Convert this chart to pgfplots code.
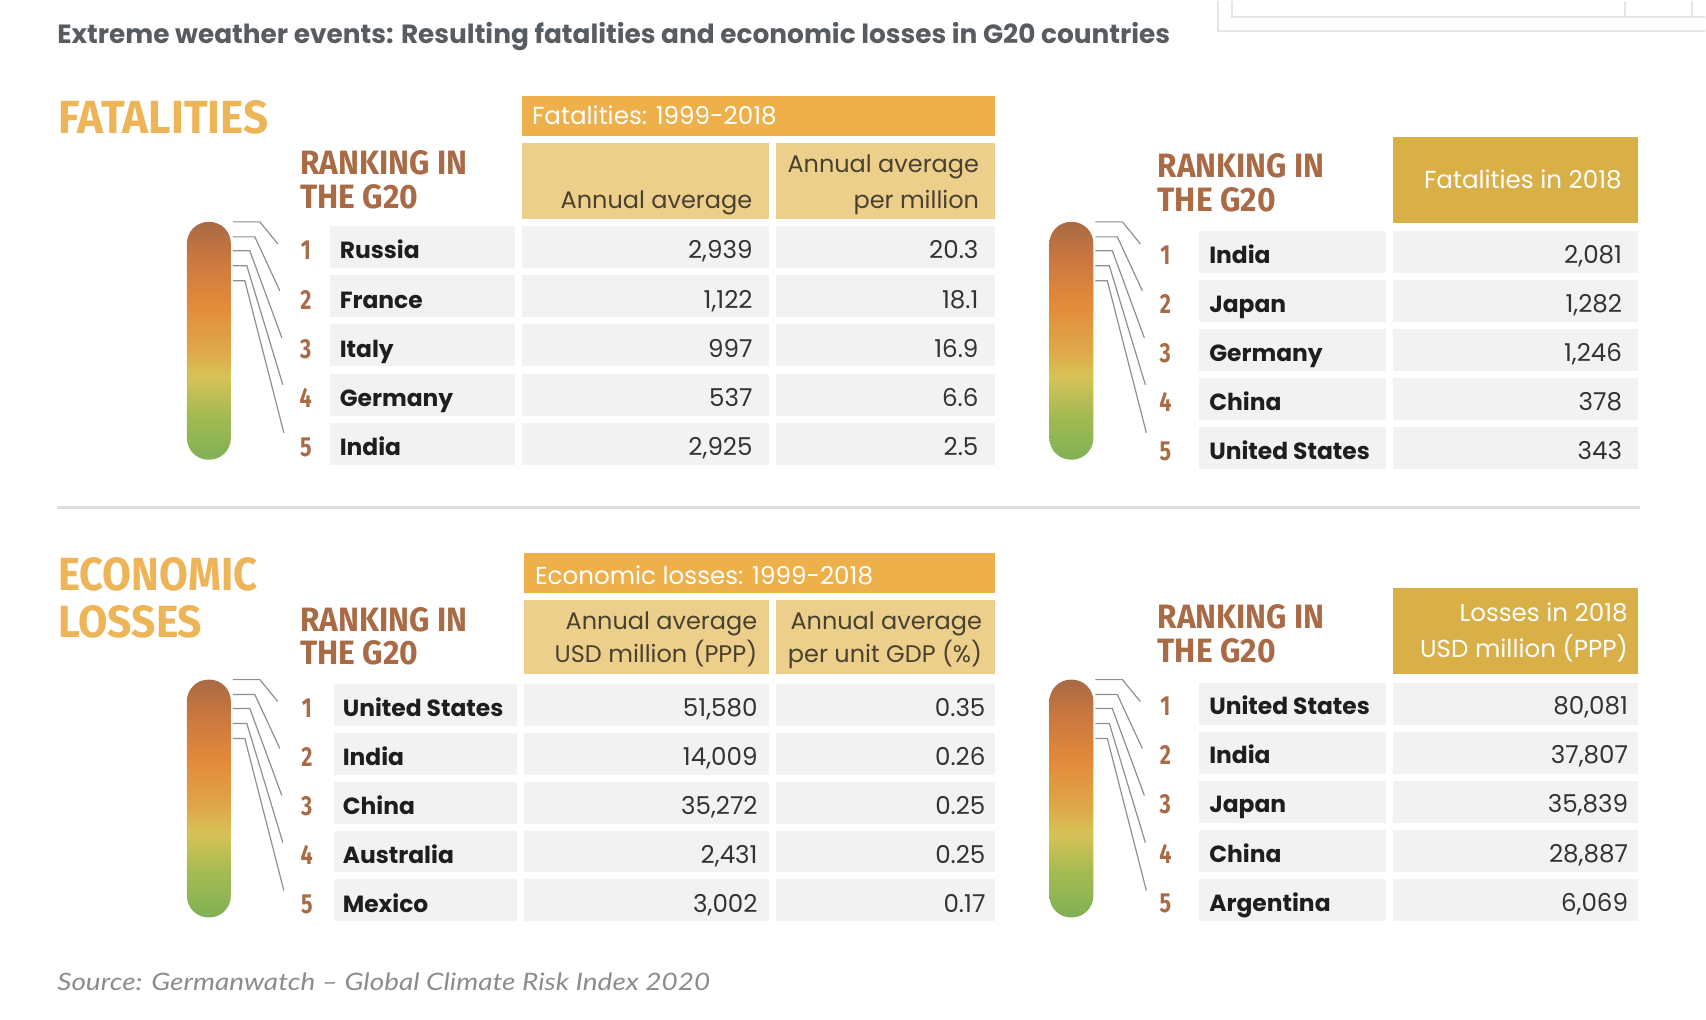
\documentclass[border=0pt]{standalone}
\usepackage{pgfplots}
\pgfplotsset{compat=1.18}
\usepackage{pgfplotstable}
\usepackage{graphicx}
\usepackage{fontspec}
\setmainfont{Poppins}
\newfontfamily\latofont{Lato}
\newfontfamily\headfont{Fira Sans}
\newcommand{\fs}[1]{\fontsize{#1}{#1}\selectfont}

\definecolor{bandc}{HTML}{EDB04B}
\definecolor{subc}{HTML}{EBCF8A}
\definecolor{hdrc}{HTML}{D9AF48}
\definecolor{cellc}{HTML}{F2F2F2}
\definecolor{subtext}{HTML}{4A4030}
\definecolor{rankc}{HTML}{A86B45}
\definecolor{headc}{HTML}{EDB458}
\definecolor{titlec}{HTML}{575C61}
\definecolor{sourcec}{HTML}{8C8C8C}
\definecolor{sepc}{HTML}{DDDDDD}
\definecolor{connc}{HTML}{8F8F8F}
\definecolor{ctext}{HTML}{1E1E1E}
\definecolor{vtext}{HTML}{333333}
\definecolor{frc}{HTML}{E6E6E6}
\definecolor{th0}{HTML}{80B055}
\definecolor{th1}{HTML}{A6BB52}
\definecolor{th2}{HTML}{D6C257}
\definecolor{th3}{HTML}{DFA648}
\definecolor{th4}{HTML}{E38B3B}
\definecolor{th5}{HTML}{C9773F}
\definecolor{th6}{HTML}{A96A45}
% path bounding box maps to 25bp..75bp of the shading
\pgfdeclareverticalshading{therm}{100bp}{color(0bp)=(th0); color(25bp)=(th0); color(35bp)=(th1); color(42.5bp)=(th2); color(48.5bp)=(th3); color(57.5bp)=(th4); color(67.5bp)=(th5); color(75bp)=(th6); color(100bp)=(th6)}

\pgfplotstableread[col sep=semicolon]{
r;c;a;b
1;Russia;2,939;20.3
2;France;1,122;18.1
3;Italy;997;16.9
4;Germany;537;6.6
5;India;2,925;2.5
}\tfa
\pgfplotstableread[col sep=semicolon]{
r;c;a
1;India;2,081
2;Japan;1,282
3;Germany;1,246
4;China;378
5;United States;343
}\tfb
\pgfplotstableread[col sep=semicolon]{
r;c;a;b
1;United States;51,580;0.35
2;India;14,009;0.26
3;China;35,272;0.25
4;Australia;2,431;0.25
5;Mexico;3,002;0.17
}\tla
\pgfplotstableread[col sep=semicolon]{
r;c;a
1;United States;80,081
2;India;37,807
3;Japan;35,839
4;China;28,887
5;Argentina;6,069
}\tlb

\pgfplotsset{
 txt/.style={draw=none, mark=none, point meta=explicit symbolic, nodes near coords,
   every node near coord/.append style={inner sep=0pt, outer sep=0pt}},
 cname/.style={txt, every node near coord/.append style={anchor=base west, font=\fs{11.7pt}\bfseries, text=ctext}},
 cval/.style={txt, every node near coord/.append style={anchor=base east, font=\fs{12.3pt}, text=vtext}},
 crank/.style={txt, nodes near coords={\scalebox{0.78}[1]{\pgfplotspointmeta}},
   every node near coord/.append style={anchor=base, font=\headfont\fs{13.8pt}\bfseries, text=rankc}},
}

\tikzset{conn/.style={draw=connc, line width=0.6pt},
  sub/.style={anchor=base east, inner sep=0pt, text=subtext, font=\fs{12pt}},
  wht/.style={inner sep=0pt, text=white, font=\fs{12.3pt}}}

\newcommand{\therm}[2]{%
\shade[shading=therm, rounded corners=10.8pt] (axis cs:{187+#1},{221+#2}) rectangle (axis cs:{231+#1},{459+#2});
\draw[conn] (axis cs:{233+#1},{221+#2}) -- (axis cs:{260+#1},{221+#2}) -- (axis cs:{278+#1},{243+#2});
\draw[conn] (axis cs:{233+#1},{236+#2}) -- (axis cs:{255+#1},{236+#2}) -- (axis cs:{280+#1},{290+#2});
\draw[conn] (axis cs:{233+#1},{250+#2}) -- (axis cs:{250+#1},{250+#2}) -- (axis cs:{282+#1},{337+#2});
\draw[conn] (axis cs:{233+#1},{265+#2}) -- (axis cs:{247+#1},{265+#2}) -- (axis cs:{283+#1},{384+#2});
\draw[conn] (axis cs:{233+#1},{280+#2}) -- (axis cs:{245+#1},{280+#2}) -- (axis cs:{284+#1},{432+#2});
}
\newcommand{\rankhead}[3]{%
\node[anchor=base west, inner sep=0pt, text=rankc] at (axis cs:#1,#2) {\resizebox{83.5pt}{12pt}{\headfont\bfseries RANKING IN}};
\node[anchor=base west, inner sep=0pt, text=rankc] at (axis cs:#1,#3) {\resizebox{59pt}{12pt}{\headfont\bfseries THE G20}};
}

\begin{document}
\begin{tikzpicture}
\begin{axis}[width=853pt, height=509.5pt, scale only axis,
  xmin=0, xmax=1706, ymin=0, ymax=1019, y dir=reverse,
  hide axis, clip=false]
\path (axis cs:0,0) rectangle (axis cs:1706,1019);

% faint frame top right
\draw[frc, line width=1pt] (axis cs:1219,0) -- (axis cs:1219,30) -- (axis cs:1706,30);
\draw[frc, line width=1pt] (axis cs:1233,0) -- (axis cs:1233,16) -- (axis cs:1706,16);
\draw[frc, line width=1pt] (axis cs:1626,0) -- (axis cs:1626,16);
\draw[frc, line width=1pt] (axis cs:1693,0) -- (axis cs:1693,16);

% title
\node[anchor=base west, inner sep=0pt, text=titlec, font=\fs{13.2pt}\bfseries] at (axis cs:57,43)
  {Extreme weather events: Resulting fatalities and economic losses in G20 countries};

% section headings
\node[anchor=base west, inner sep=0pt, text=headc] at (axis cs:58,133) {\resizebox{105pt}{16.5pt}{\headfont\bfseries FATALITIES}};
\node[anchor=base west, inner sep=0pt, text=headc] at (axis cs:58,590) {\resizebox{99.5pt}{16.5pt}{\headfont\bfseries ECONOMIC}};
\node[anchor=base west, inner sep=0pt, text=headc] at (axis cs:58,637) {\resizebox{72pt}{16pt}{\headfont\bfseries LOSSES}};

% ranking headings
\rankhead{300}{174}{208}
\rankhead{1158}{177}{211}
\rankhead{300}{631}{664}
\rankhead{1158}{628}{662}

% ---- top-left header boxes
\fill[bandc] (axis cs:522,95) rectangle (axis cs:996,135);
\node[wht, anchor=base west] at (axis cs:532,124) {Fatalities: 1999-2018};
\fill[subc] (axis cs:522,142) rectangle (axis cs:769,218);
\fill[subc] (axis cs:776,142) rectangle (axis cs:996,218);
\node[sub] at (axis cs:753,208) {Annual average};
\node[sub] at (axis cs:980,172) {Annual average};
\node[sub] at (axis cs:980,208) {per million};

% ---- top-right header
\fill[hdrc] (axis cs:1394,136) rectangle (axis cs:1639,222);
\node[wht, anchor=base east] at (axis cs:1623,188) {Fatalities in 2018};

% ---- lower-left header boxes
\fill[bandc] (axis cs:524,552) rectangle (axis cs:996,592);
\node[wht, anchor=base west] at (axis cs:535,584) {Economic losses: 1999-2018};
\fill[subc] (axis cs:524,599) rectangle (axis cs:769,673);
\fill[subc] (axis cs:776,599) rectangle (axis cs:996,673);
\node[sub] at (axis cs:758,629) {Annual average};
\node[sub] at (axis cs:758,662) {USD million (PPP)};
\node[sub] at (axis cs:983,629) {Annual average};
\node[sub] at (axis cs:983,662) {per unit GDP (\%)};

% ---- lower-right header
\fill[hdrc] (axis cs:1394,587) rectangle (axis cs:1639,673);
\node[wht, anchor=base east] at (axis cs:1629,621) {Losses in 2018};
\node[wht, anchor=base east] at (axis cs:1629,657) {USD million (PPP)};

% ---- cells
\pgfplotsinvokeforeach{0,1,2,3,4}{
  \fill[cellc] (axis cs:330,{225+49.3*#1}) rectangle (axis cs:515,{267+49.3*#1});
  \fill[cellc] (axis cs:522,{225+49.3*#1}) rectangle (axis cs:769,{267+49.3*#1});
  \fill[cellc] (axis cs:776,{225+49.3*#1}) rectangle (axis cs:996,{267+49.3*#1});
  \fill[cellc] (axis cs:1200,{230+49*#1}) rectangle (axis cs:1387,{272+49*#1});
  \fill[cellc] (axis cs:1394,{230+49*#1}) rectangle (axis cs:1639,{272+49*#1});
  \fill[cellc] (axis cs:334,{683+49*#1}) rectangle (axis cs:517,{725+49*#1});
  \fill[cellc] (axis cs:524,{683+49*#1}) rectangle (axis cs:769,{725+49*#1});
  \fill[cellc] (axis cs:776,{683+49*#1}) rectangle (axis cs:996,{725+49*#1});
  \fill[cellc] (axis cs:1200,{682+49.2*#1}) rectangle (axis cs:1387,{724+49.2*#1});
  \fill[cellc] (axis cs:1394,{682+49.2*#1}) rectangle (axis cs:1639,{724+49.2*#1});
}

% separator
\draw[sepc, line width=1.5pt] (axis cs:57,507) -- (axis cs:1641,507);

% thermometers and connectors
\therm{0}{0}
\therm{863}{0}
\therm{0}{458}
\therm{863}{458}

% ---- table text: top-left
\addplot[crank] table[x expr=306, y expr={259+49.3*(\thisrow{r}-1)}, meta=r] {\tfa};
\addplot[cname] table[x expr=340, y expr={258+49.3*(\thisrow{r}-1)}, meta=c] {\tfa};
\addplot[cval] table[x expr=753, y expr={258+49.3*(\thisrow{r}-1)}, meta=a] {\tfa};
\addplot[cval] table[x expr=979, y expr={258+49.3*(\thisrow{r}-1)}, meta=b] {\tfa};
% top-right
\addplot[crank] table[x expr=1166, y expr={264+49*(\thisrow{r}-1)}, meta=r] {\tfb};
\addplot[cname] table[x expr=1210, y expr={263+49*(\thisrow{r}-1)}, meta=c] {\tfb};
\addplot[cval] table[x expr=1623, y expr={263+49*(\thisrow{r}-1)}, meta=a] {\tfb};
% lower-left
\addplot[crank] table[x expr=307, y expr={717+49*(\thisrow{r}-1)}, meta=r] {\tla};
\addplot[cname] table[x expr=343, y expr={716+49*(\thisrow{r}-1)}, meta=c] {\tla};
\addplot[cval] table[x expr=758, y expr={716+49*(\thisrow{r}-1)}, meta=a] {\tla};
\addplot[cval] table[x expr=986, y expr={716+49*(\thisrow{r}-1)}, meta=b] {\tla};
% lower-right
\addplot[crank] table[x expr=1166, y expr={715+49.2*(\thisrow{r}-1)}, meta=r] {\tlb};
\addplot[cname] table[x expr=1210, y expr={714+49.2*(\thisrow{r}-1)}, meta=c] {\tlb};
\addplot[cval] table[x expr=1629, y expr={714+49.2*(\thisrow{r}-1)}, meta=a] {\tlb};

% source
\node[anchor=base west, inner sep=0pt, text=sourcec, font=\latofont\fs{12pt}\itshape] at (axis cs:57,990)
  {\scalebox{1.165}[1]{Source: Germanwatch – Global Climate Risk Index 2020}};
\end{axis}
\end{tikzpicture}
\end{document}
